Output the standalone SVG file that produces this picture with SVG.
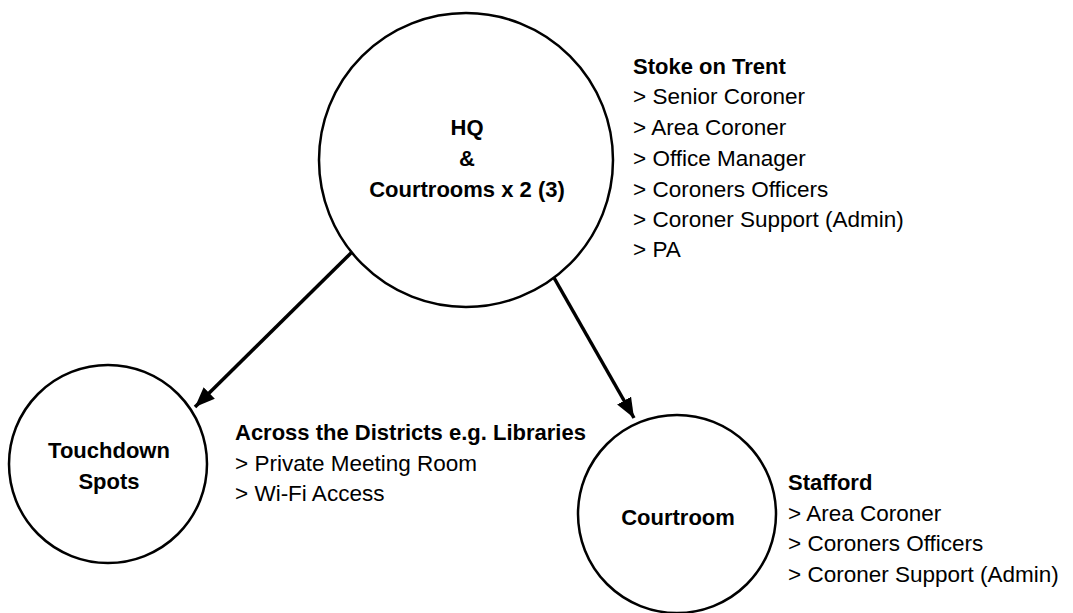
<svg xmlns="http://www.w3.org/2000/svg" width="1073" height="613" viewBox="0 0 1073 613">
  <style>
    .node { fill: #ffffff; stroke: #000000; stroke-width: 2.5; }
    .edge { stroke: #000000; stroke-width: 3.5; fill: none; }
    .title { font-family: "Liberation Sans", Arial, sans-serif; font-size: 22px; font-weight: bold; fill: #000000; }
    .body { font-family: "Liberation Sans", Arial, sans-serif; font-size: 22.5px; fill: #000000; }
  </style>
  <defs>
    <marker id="arrow" markerUnits="userSpaceOnUse" markerWidth="22" markerHeight="18" refX="20" refY="8" orient="auto">
      <path d="M0,0 L20,8 L0,16 Z" fill="#000000"/>
    </marker>
  </defs>
  <rect width="1073" height="613" fill="#ffffff"/>

  <g id="connectors">
    <line class="edge" x1="352" y1="252" x2="195" y2="407" marker-end="url(#arrow)"/>
    <line class="edge" x1="553" y1="276" x2="634" y2="418" marker-end="url(#arrow)"/>
  </g>

  <g id="hq">
    <circle class="node" cx="466" cy="160" r="147"/>
    <text class="title" text-anchor="middle" x="467" y="135">HQ</text>
    <text class="title" text-anchor="middle" x="467" y="166">&amp;</text>
    <text class="title" text-anchor="middle" x="467" y="197">Courtrooms x 2 (3)</text>
  </g>

  <g id="hq-info">
    <text class="title" x="633" y="74">Stoke on Trent</text>
    <text class="body" x="633" y="104">&gt; Senior Coroner</text>
    <text class="body" x="633" y="135">&gt; Area Coroner</text>
    <text class="body" x="633" y="166">&gt; Office Manager</text>
    <text class="body" x="633" y="197">&gt; Coroners Officers</text>
    <text class="body" x="633" y="227">&gt; Coroner Support (Admin)</text>
    <text class="body" x="633" y="257">&gt; PA</text>
  </g>

  <g id="touchdown">
    <circle class="node" cx="108" cy="464" r="99"/>
    <text class="title" text-anchor="middle" x="109" y="458">Touchdown</text>
    <text class="title" text-anchor="middle" x="109" y="489">Spots</text>
  </g>

  <g id="touchdown-info">
    <text class="title" x="235" y="440">Across the Districts e.g. Libraries</text>
    <text class="body" x="235" y="471">&gt; Private Meeting Room</text>
    <text class="body" x="235" y="501">&gt; Wi-Fi Access</text>
  </g>

  <g id="courtroom">
    <circle class="node" cx="677" cy="514" r="99"/>
    <text class="title" text-anchor="middle" x="678" y="525">Courtroom</text>
  </g>

  <g id="courtroom-info">
    <text class="title" x="788" y="490">Stafford</text>
    <text class="body" x="788" y="521">&gt; Area Coroner</text>
    <text class="body" x="788" y="551">&gt; Coroners Officers</text>
    <text class="body" x="788" y="582">&gt; Coroner Support (Admin)</text>
  </g>
</svg>
